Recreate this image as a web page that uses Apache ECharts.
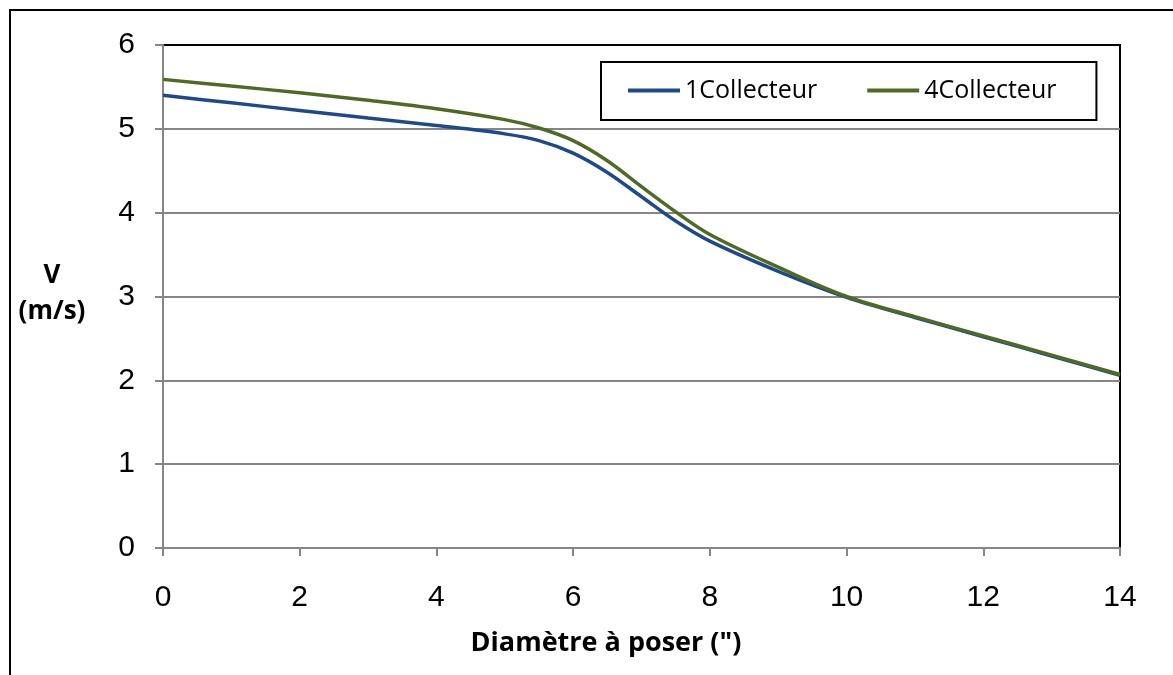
<!DOCTYPE html>
<html>
<head>
<meta charset="utf-8">
<script src="https://cdn.jsdelivr.net/npm/echarts@6/dist/echarts.min.js"></script>
<style>
html,body{margin:0;padding:0;background:#fff;}
#chart{width:1173px;height:675px;}
</style>
</head>
<body>
<div id="chart"></div>
<script>
const diameters = [0, 1, 2, 3, 4, 5, 5.5, 6, 6.5, 7, 7.5, 8, 9, 10, 11, 12, 13, 14];
const v1Collecteur = [5.40, 5.31, 5.22, 5.13, 5.04, 4.94, 4.86, 4.71, 4.48, 4.19, 3.90, 3.66, 3.30, 2.99, 2.75, 2.52, 2.29, 2.06];
const v4Collecteur = [5.59, 5.51, 5.43, 5.34, 5.24, 5.11, 5.01, 4.86, 4.62, 4.31, 4.01, 3.74, 3.35, 3.00, 2.76, 2.53, 2.30, 2.07];
const seriesNames = ['1Collecteur', '4Collecteur'];
const xTitle = 'Diamètre à poser (")';
const yTitle = 'V\n(m/s)';

const chart = echarts.init(document.getElementById('chart'));
const pairs = (ys) => diameters.map((d, i) => [d, ys[i]]);

chart.setOption({
  animation: false,
  backgroundColor: '#fff',
  grid: { left: 163, right: 53, top: 45, bottom: 127, show: true, borderColor: '#000', borderWidth: 2, backgroundColor: 'transparent' },
  legend: {
    left: 601, top: 62,
    padding: [16, 40, 17, 27],
    borderColor: '#000', borderWidth: 2,
    icon: 'rect',
    itemWidth: 52, itemHeight: 4, itemGap: 50,
    textStyle: { fontFamily: 'Open Sans', fontSize: 25, color: '#000' },
    data: seriesNames
  },
  xAxis: {
    type: 'value', min: 0, max: 14, interval: 2,
    axisLine: { show: true, onZero: false, lineStyle: { color: '#868686', width: 2 } },
    axisTick: { show: true, length: 8, lineStyle: { color: '#868686', width: 2 } },
    splitLine: { show: false },
    axisLabel: { margin: 35, fontFamily: 'Liberation Sans', fontSize: 30, color: '#000' }
  },
  yAxis: {
    type: 'value', min: 0, max: 6, interval: 1,
    axisLine: { show: true, lineStyle: { color: '#868686', width: 2 } },
    axisTick: { show: true, length: 8, lineStyle: { color: '#868686', width: 2 } },
    splitLine: { show: true, showMinLine: false, showMaxLine: false, lineStyle: { color: '#868686', width: 2 } },
    axisLabel: { margin: 28, fontFamily: 'Liberation Sans', fontSize: 30, color: '#000' }
  },
  graphic: [
    { type: 'rect', shape: { x: 10, y: 10, width: 1300, height: 800 }, style: { fill: 'none', stroke: '#000', lineWidth: 2 }, silent: true, z: 100 },
    { type: 'text', position: [52, 294], style: { text: yTitle, fontFamily: 'Open Sans', fontWeight: 'bold', fontSize: 26, lineHeight: 36, fill: '#000', align: 'center', verticalAlign: 'middle' }, z: 100 },
    { type: 'text', position: [606, 643], style: { text: xTitle, fontFamily: 'Open Sans', fontWeight: 'bold', fontSize: 27, fill: '#000', align: 'center', verticalAlign: 'middle' }, z: 100 }
  ],
  series: [
    { name: seriesNames[0], type: 'line', data: pairs(v1Collecteur), smooth: 0.35, symbol: 'none', lineStyle: { color: '#1F4A87', width: 3.5 }, itemStyle: { color: '#1F4A87' }, z: 3 },
    { name: seriesNames[1], type: 'line', data: pairs(v4Collecteur), smooth: 0.35, symbol: 'none', lineStyle: { color: '#4F6A28', width: 3.5 }, itemStyle: { color: '#4F6A28' }, z: 4 }
  ]
});
</script>
</body>
</html>
